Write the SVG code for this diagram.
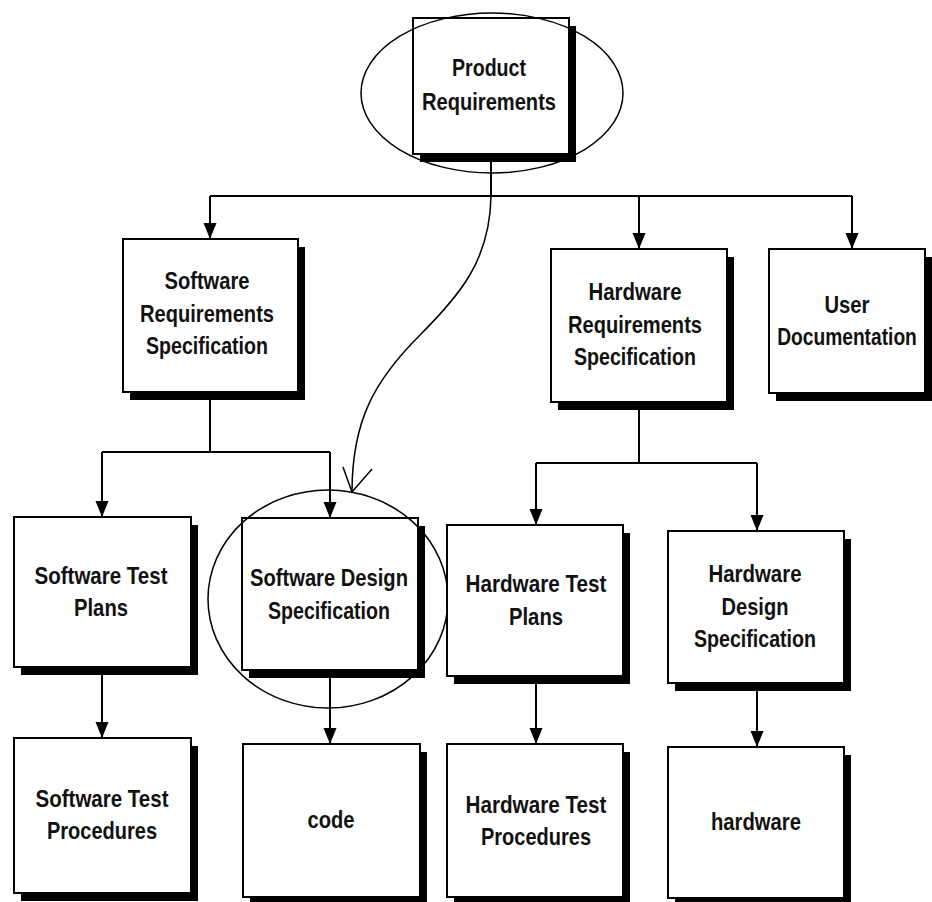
<svg xmlns="http://www.w3.org/2000/svg" width="932" height="902" viewBox="0 0 932 902">
<style>
.box{fill:#fff;stroke:#000;stroke-width:2}
.shadow{fill:#000}
.ring{fill:none;stroke:#000;stroke-width:1.5}
.lbl{font-family:"Liberation Sans",Arial,sans-serif;font-size:24px;font-weight:bold;text-anchor:middle;fill:#111}
.wire{fill:none;stroke:#000;stroke-width:2}
.hand{fill:none;stroke:#000;stroke-width:1.5}
</style>
<defs>
<marker id="arr" markerUnits="userSpaceOnUse" markerWidth="17" markerHeight="14" refX="16" refY="6.5" orient="auto">
<path d="M0,0 L16,6.5 L0,13 z" fill="#000"/>
</marker>
</defs>
<rect width="932" height="902" fill="#fff"/>
<g id="connectors">
<path class="wire" d="M491,154 V196"/>
<path class="wire" d="M210,196 H852"/>
<path class="wire" d="M210,196 V239" marker-end="url(#arr)"/>
<path class="wire" d="M639,196 V249" marker-end="url(#arr)"/>
<path class="wire" d="M852,196 V249" marker-end="url(#arr)"/>
<path class="wire" d="M210,392 V452"/>
<path class="wire" d="M102,452 H330"/>
<path class="wire" d="M102,452 V517" marker-end="url(#arr)"/>
<path class="wire" d="M330,452 V518" marker-end="url(#arr)"/>
<path class="wire" d="M639,402 V463"/>
<path class="wire" d="M536,463 H757"/>
<path class="wire" d="M536,463 V525" marker-end="url(#arr)"/>
<path class="wire" d="M757,463 V531" marker-end="url(#arr)"/>
<path class="wire" d="M102,667 V738" marker-end="url(#arr)"/>
<path class="wire" d="M330,670 V744" marker-end="url(#arr)"/>
<path class="wire" d="M536,676 V744" marker-end="url(#arr)"/>
<path class="wire" d="M757,683 V747" marker-end="url(#arr)"/>
<path class="hand" d="M491,196 C490,260 460,295 420,335 C375,380 352,420 352,492"/>
<path class="hand" d="M343,467 L352,492 L372,469"/>
</g>
<g id="product">
<rect class="shadow" x="420" y="26" width="156" height="136"/>
<rect class="box" x="413" y="18" width="156" height="136"/>
<text class="lbl" x="489" y="76" textLength="74" lengthAdjust="spacingAndGlyphs">Product</text>
<text class="lbl" x="489" y="110" textLength="134" lengthAdjust="spacingAndGlyphs">Requirements</text>
<ellipse class="ring" cx="492" cy="93" rx="131" ry="80"/>
</g>
<g id="srs">
<rect class="shadow" x="130" y="247" width="175" height="153"/>
<rect class="box" x="123" y="239" width="175" height="153"/>
<text class="lbl" x="207" y="289" textLength="85" lengthAdjust="spacingAndGlyphs">Software</text>
<text class="lbl" x="207" y="322" textLength="134" lengthAdjust="spacingAndGlyphs">Requirements</text>
<text class="lbl" x="207" y="354" textLength="122" lengthAdjust="spacingAndGlyphs">Specification</text>
</g>
<g id="hrs">
<rect class="shadow" x="558" y="257" width="176" height="153"/>
<rect class="box" x="551" y="249" width="176" height="153"/>
<text class="lbl" x="635" y="300" textLength="93" lengthAdjust="spacingAndGlyphs">Hardware</text>
<text class="lbl" x="635" y="333" textLength="134" lengthAdjust="spacingAndGlyphs">Requirements</text>
<text class="lbl" x="635" y="365" textLength="122" lengthAdjust="spacingAndGlyphs">Specification</text>
</g>
<g id="userdoc">
<rect class="shadow" x="776" y="257" width="156" height="144"/>
<rect class="box" x="769" y="249" width="156" height="144"/>
<text class="lbl" x="847" y="313" textLength="45" lengthAdjust="spacingAndGlyphs">User</text>
<text class="lbl" transform="translate(847 345) scale(0.8 1)">Documentation</text>
</g>
<g id="stp">
<rect class="shadow" x="21" y="525" width="177" height="150"/>
<rect class="box" x="14" y="517" width="177" height="150"/>
<text class="lbl" x="101" y="584" textLength="133" lengthAdjust="spacingAndGlyphs">Software Test</text>
<text class="lbl" x="101" y="616" textLength="54" lengthAdjust="spacingAndGlyphs">Plans</text>
</g>
<g id="sds">
<rect class="shadow" x="249" y="526" width="176" height="152"/>
<rect class="box" x="242" y="518" width="176" height="152"/>
<text class="lbl" x="329" y="586" textLength="158" lengthAdjust="spacingAndGlyphs">Software Design</text>
<text class="lbl" x="329" y="619" textLength="122" lengthAdjust="spacingAndGlyphs">Specification</text>
<ellipse class="ring" cx="328" cy="599" rx="120" ry="109"/>
</g>
<g id="htp">
<rect class="shadow" x="454" y="533" width="176" height="151"/>
<rect class="box" x="447" y="525" width="176" height="151"/>
<text class="lbl" x="536" y="592" textLength="141" lengthAdjust="spacingAndGlyphs">Hardware Test</text>
<text class="lbl" x="536" y="625" textLength="54" lengthAdjust="spacingAndGlyphs">Plans</text>
</g>
<g id="hds">
<rect class="shadow" x="675" y="539" width="176" height="152"/>
<rect class="box" x="668" y="531" width="176" height="152"/>
<text class="lbl" x="755" y="582" textLength="93" lengthAdjust="spacingAndGlyphs">Hardware</text>
<text class="lbl" x="755" y="615" textLength="67" lengthAdjust="spacingAndGlyphs">Design</text>
<text class="lbl" x="755" y="647" textLength="122" lengthAdjust="spacingAndGlyphs">Specification</text>
</g>
<g id="stproc">
<rect class="shadow" x="21" y="746" width="177" height="155"/>
<rect class="box" x="14" y="738" width="177" height="155"/>
<text class="lbl" x="102" y="807" textLength="133" lengthAdjust="spacingAndGlyphs">Software Test</text>
<text class="lbl" x="102" y="839" textLength="110" lengthAdjust="spacingAndGlyphs">Procedures</text>
</g>
<g id="code">
<rect class="shadow" x="250" y="752" width="177" height="153"/>
<rect class="box" x="243" y="744" width="177" height="153"/>
<text class="lbl" x="331" y="828" textLength="47" lengthAdjust="spacingAndGlyphs">code</text>
</g>
<g id="htproc">
<rect class="shadow" x="454" y="752" width="176" height="153"/>
<rect class="box" x="447" y="744" width="176" height="153"/>
<text class="lbl" x="536" y="813" textLength="141" lengthAdjust="spacingAndGlyphs">Hardware Test</text>
<text class="lbl" x="536" y="845" textLength="110" lengthAdjust="spacingAndGlyphs">Procedures</text>
</g>
<g id="hardware">
<rect class="shadow" x="675" y="755" width="176" height="151"/>
<rect class="box" x="668" y="747" width="176" height="151"/>
<text class="lbl" x="756" y="830" textLength="90" lengthAdjust="spacingAndGlyphs">hardware</text>
</g>
</svg>
